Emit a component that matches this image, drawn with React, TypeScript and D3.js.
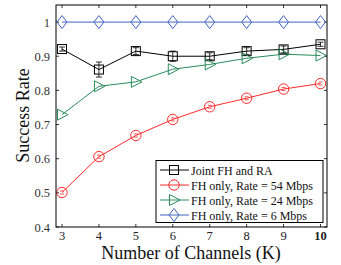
import React from "react";
import * as d3 from "d3";

const channels = [3, 4, 5, 6, 7, 8, 9, 10];
const jointValues = [0.921, 0.861, 0.915, 0.9, 0.9, 0.915, 0.92, 0.935];
const jointErr = [0.006, 0.022, 0.01, 0.015, 0.01, 0.01, 0.01, 0.006];
const fh54Values = [0.501, 0.606, 0.668, 0.715, 0.752, 0.777, 0.804, 0.82];
const fh24Values = [0.729, 0.812, 0.825, 0.862, 0.876, 0.894, 0.906, 0.902];
const fh6Values = [1, 1, 1, 1, 1, 1, 1, 1];
const yTicks = [0.4, 0.5, 0.6, 0.7, 0.8, 0.9, 1];
const legendLabels = [
  "Joint FH and RA",
  "FH only, Rate = 54 Mbps",
  "FH only, Rate = 24 Mbps",
  "FH only, Rate = 6 Mbps",
];

const FONT = "Liberation Serif, DejaVu Serif, serif";
const colors = ["#000000", "#ff2a2a", "#2a8c5c", "#4164c4"];
const markers = ["square", "circle", "triangle", "diamond"];

function Marker({ type, x, y, color }: { type: string; x: number; y: number; color: string }) {
  const common = { fill: "none", stroke: color, strokeWidth: 1 };
  if (type === "square") return <rect x={x - 4.5} y={y - 4.5} width={9} height={9} {...common} />;
  if (type === "circle") return <circle cx={x} cy={y} r={5.2} {...common} />;
  if (type === "triangle")
    return <path d={`M${x - 4.5},${y - 5.5}L${x + 6},${y}L${x - 4.5},${y + 5.5}Z`} {...common} />;
  return <path d={`M${x},${y - 6.5}L${x + 5},${y}L${x},${y + 6.5}L${x - 5},${y}Z`} {...common} />;
}

export default function App() {
  const left = 56, right = 327, top = 5, bottom = 227;
  const x = d3.scaleLinear().domain([3, 10]).range([62, 320.5]);
  const y = d3.scaleLinear().domain([0.4, 1.05]).range([bottom, top]);
  const line = d3.line<number>().x((_, i) => x(channels[i])).y((v) => y(v));
  const series = [jointValues, fh54Values, fh24Values, fh6Values];
  const legX = 156, legY = 160.5, legW = 167, legH = 62;
  const rowH = 15;

  return (
    <svg width={341} height={265} style={{ position: "absolute", left: 0, top: 0, background: "#fff", fontFamily: FONT }}>
      <rect x={0} y={0} width={341} height={265} fill="#fff" />
      {channels.map((c) => (
        <g key={"xt" + c}>
          <line x1={x(c)} x2={x(c)} y1={bottom} y2={bottom - 3} stroke="#000" strokeWidth={0.8} />
          <line x1={x(c)} x2={x(c)} y1={top} y2={top + 3} stroke="#000" strokeWidth={0.8} />
          <text x={x(c)} y={240} textAnchor="middle" style={{ fontFamily: FONT }} fontSize={12.5}
            fill="#222" fontWeight={c === 10 ? "bold" : "normal"}>
            {c}
          </text>
        </g>
      ))}
      {yTicks.map((t) => (
        <g key={"yt" + t}>
          <line x1={left} x2={left + 3} y1={y(t)} y2={y(t)} stroke="#000" strokeWidth={0.8} />
          <line x1={right} x2={right - 3} y1={y(t)} y2={y(t)} stroke="#000" strokeWidth={0.8} />
          <text x={50} y={y(t) + 4.5} textAnchor="end" style={{ fontFamily: FONT }} fontSize={12.5} fill="#333">
            {t === 1 ? "1" : t.toFixed(1)}
          </text>
        </g>
      ))}
      {series.map((s, si) => (
        <path key={"l" + si} d={line(s) || ""} fill="none" stroke={colors[si]} strokeWidth={1} />
      ))}
      {channels.map((c, i) => (
        <g key={"eb" + c} stroke="#000" strokeWidth={0.8}>
          <line x1={x(c)} x2={x(c)} y1={y(jointValues[i] - jointErr[i])} y2={y(jointValues[i] + jointErr[i])} />
          <line x1={x(c) - 3} x2={x(c) + 3} y1={y(jointValues[i] - jointErr[i])} y2={y(jointValues[i] - jointErr[i])} />
          <line x1={x(c) - 3} x2={x(c) + 3} y1={y(jointValues[i] + jointErr[i])} y2={y(jointValues[i] + jointErr[i])} />
        </g>
      ))}
      {channels.map((c, i) => (
        <g key={"ebr" + c} stroke={colors[1]} strokeWidth={0.8}>
          <line x1={x(c) - 2} x2={x(c) + 2} y1={y(fh54Values[i]) - 1.5} y2={y(fh54Values[i]) - 1.5} />
          <line x1={x(c) - 2} x2={x(c) + 2} y1={y(fh54Values[i]) + 1.5} y2={y(fh54Values[i]) + 1.5} />
        </g>
      ))}
      {series.map((s, si) =>
        s.map((v, i) => (
          <Marker key={"m" + si + "-" + i} type={markers[si]} x={x(channels[i])} y={y(v)} color={colors[si]} />
        ))
      )}
      <rect x={left} y={top} width={right - left} height={bottom - top} fill="none" stroke="#000" strokeWidth={1} />
      <rect x={legX} y={legY} width={legW} height={legH} fill="#fff" stroke="#000" strokeWidth={1} />
      {legendLabels.map((lab, i) => {
        const cy = legY + 9.5 + i * rowH;
        return (
          <g key={"lg" + i}>
            <line x1={legX + 4} x2={legX + 33} y1={cy} y2={cy} stroke={colors[i]} strokeWidth={1} />
            <Marker type={markers[i]} x={legX + 18} y={cy} color={colors[i]} />
            <text x={legX + 35} y={cy + 4.5} style={{ fontFamily: FONT }} fontSize={12} fill="#111">
              {lab}
            </text>
          </g>
        );
      })}
      <text x={191} y={259} textAnchor="middle" style={{ fontFamily: FONT }} fontSize={18} fill="#111">
        Number of Channels (K)
      </text>
      <text transform={`translate(29,115.5) rotate(-90)`} textAnchor="middle"
        style={{ fontFamily: FONT }} fontSize={18} fill="#111">
        Success Rate
      </text>
    </svg>
  );
}
